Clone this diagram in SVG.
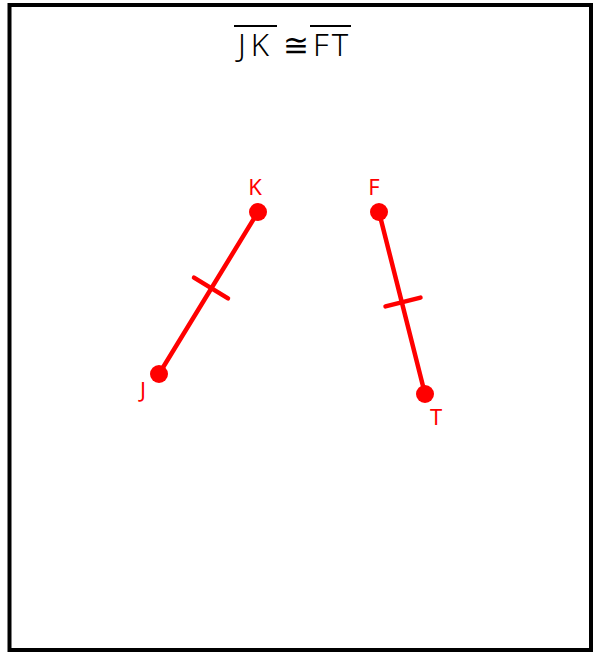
<svg xmlns="http://www.w3.org/2000/svg" width="596" height="653" viewBox="0 0 596 653">
<style>
.seg{stroke:#ff0000;stroke-width:4.5;fill:none;stroke-linecap:round}
.pt{fill:#ff0000}
.lbl{fill:#ff0000;font-family:"Noto Sans","DejaVu Sans",sans-serif;font-size:22px;text-anchor:middle}
.title{fill:#000;font-family:"Noto Sans","DejaVu Sans",sans-serif;font-size:31px;font-weight:300}
</style>
<rect x="0" y="0" width="596" height="653" fill="#fff"/>
<rect x="9.5" y="5" width="581.5" height="645" fill="none" stroke="#000" stroke-width="4"/>
<g id="title">
<text class="title" x="238" y="56" letter-spacing="5">JK</text>
<text class="title" x="283" y="56" font-size="28">≅</text>
<text class="title" x="313" y="56" letter-spacing="3">FT</text>
<line x1="234" y1="26" x2="277" y2="26" stroke="#000" stroke-width="2"/>
<line x1="310" y1="26" x2="351" y2="26" stroke="#000" stroke-width="2"/>
</g>
<g id="connectors">
<line class="seg" x1="159" y1="374" x2="258" y2="212"/>
<line class="seg" x1="194" y1="277.6" x2="228" y2="298.4"/>
<line class="seg" x1="379" y1="212" x2="425" y2="394"/>
<line class="seg" x1="385.5" y1="306.4" x2="420.5" y2="297.6"/>
</g>
<g id="K"><circle class="pt" cx="258" cy="212" r="9"/><text class="lbl" x="255" y="195">K</text></g>
<g id="J"><circle class="pt" cx="159" cy="374" r="9"/><text class="lbl" x="143" y="398">J</text></g>
<g id="F"><circle class="pt" cx="379" cy="212" r="9"/><text class="lbl" x="374" y="195">F</text></g>
<g id="T"><circle class="pt" cx="425" cy="394" r="9"/><text class="lbl" x="436" y="425">T</text></g>
</svg>
